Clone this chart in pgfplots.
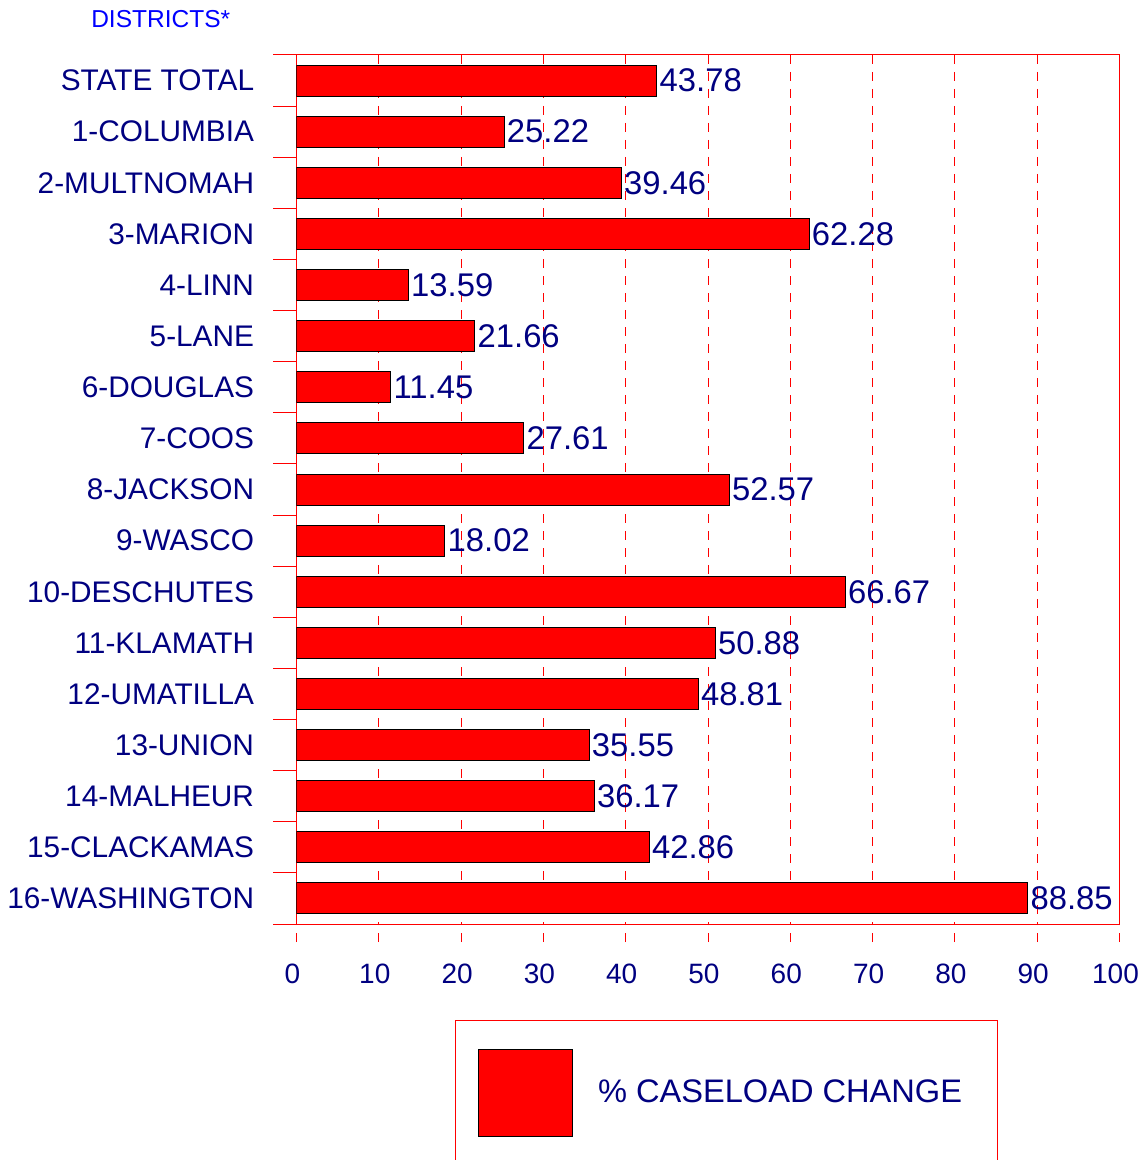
\documentclass[border=0pt]{standalone}
\usepackage{fontspec}
\setmainfont{Liberation Sans}
\usepackage{pgfplots}
\pgfplotsset{compat=1.18}
\definecolor{navy}{RGB}{0,0,128}
\definecolor{dblue}{RGB}{0,0,255}
\definecolor{gridred}{RGB}{255,0,0}
\begin{document}
\begin{tikzpicture}
\begin{axis}[
  at={(0,0)}, anchor=south west,
  scale only axis, width=411.5pt, height=434.5pt,
  xmin=0, xmax=100, ymin=-0.5, ymax=16.5, y dir=reverse,
  xbar, bar width=15.5pt,
  ytick={0,...,16},
  yticklabels={STATE TOTAL,1-COLUMBIA,2-MULTNOMAH,3-MARION,4-LINN,5-LANE,6-DOUGLAS,7-COOS,8-JACKSON,9-WASCO,10-DESCHUTES,11-KLAMATH,12-UMATILLA,13-UNION,14-MALHEUR,15-CLACKAMAS,16-WASHINGTON},
  minor ytick={-0.5,0.5,...,16.5},
  xtick={0,10,...,100},
  tick pos=left,
  xmajorgrids,
  grid style={color=gridred, dash pattern=on 4.5pt off 4pt, line width=0.5pt},
  major x grid style={color=gridred, dash pattern=on 4.5pt off 4pt, line width=0.5pt},
  axis line style={color=gridred, line width=0.5pt},
  tick align=outside,
  major tick length=9pt,
  minor tick length=11.5pt,
  every tick/.style={color=gridred, line width=0.5pt},
  major y tick style={draw=none},
  minor y tick style={color=gridred, line width=0.5pt},
  major x tick style={color=gridred, dash pattern=on 4.5pt off 4pt, line width=0.5pt},
  tick label style={text=navy},
  yticklabel style={xshift=-8.7pt, font=\fontsize{14.9}{17}\selectfont},
  xticklabel style={yshift=-7.2pt, xshift=-2pt, font=\fontsize{14}{16}\selectfont},
  /pgf/number format/assume math mode=true,
  point meta=x,
  nodes near coords={\pgfmathprintnumber[fixed,fixed zerofill,precision=2]{\pgfplotspointmeta}},
  nodes near coords style={anchor=west, font=\fontsize{16.4}{18}\selectfont, text=navy, inner xsep=1.2pt},
  every axis title shift=0pt,
  title={DISTRICTS*},
  title style={at={(-0.165,1.0414)}, anchor=center, font=\fontsize{12.25}{14}\selectfont, text=dblue},
  legend style={at={(0.192,-0.1105)}, anchor=north west, draw=gridred, line width=0.5pt,
    inner xsep=11.5pt, inner ysep=14.25pt,
    nodes={inner sep=0pt, font=\fontsize{16.3}{18}\selectfont, text=navy},
    column sep=12.5pt},
  legend image code/.code={\draw[fill=red,draw=black,line width=0.5pt] (0pt,-21.75pt) rectangle (47pt,21.75pt);},
]
\addplot[fill=red, draw=black, line width=0.5pt] coordinates {
(43.78,0) (25.22,1) (39.46,2) (62.28,3) (13.59,4) (21.66,5) (11.45,6) (27.61,7)
(52.57,8) (18.02,9) (66.67,10) (50.88,11) (48.81,12) (35.55,13) (36.17,14) (42.86,15) (88.85,16)};
\legend{\% CASELOAD CHANGE\hspace*{6pt}\mbox{}}
\end{axis}
\pgfresetboundingbox
\path (-148.25pt,-118pt) rectangle (422.25pt,462pt);
\end{tikzpicture}
\end{document}
